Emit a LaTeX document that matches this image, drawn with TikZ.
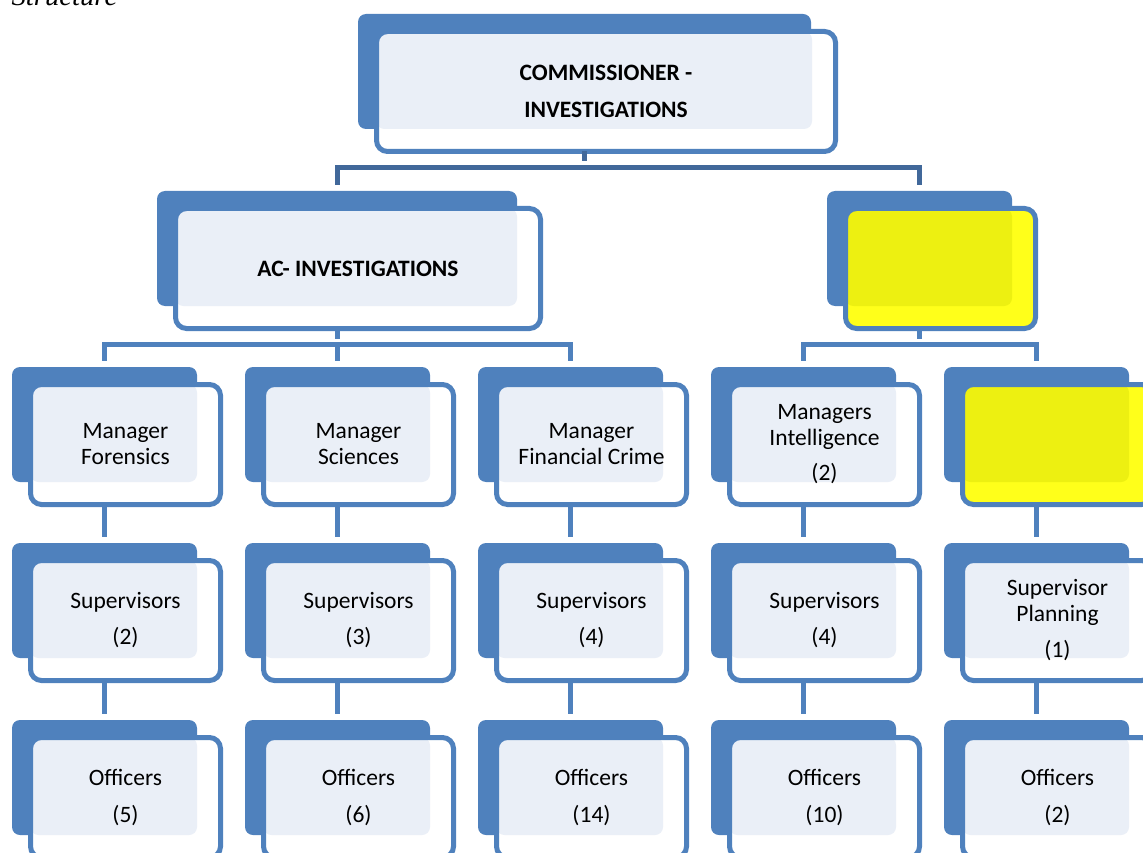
\documentclass[tikz,border=0pt]{standalone}
\usepackage{fontspec}
\setmainfont{Carlito}
\newfontfamily\capfont{Liberation Serif}
\usetikzlibrary{positioning}
\definecolor{boxblue}{RGB}{79,129,189}
\definecolor{linkblue}{RGB}{65,104,154}
\definecolor{lightfill}{RGB}{234,239,247}
\definecolor{hlyellow}{RGB}{255,255,26}
\definecolor{hlshade}{RGB}{237,240,17}

\begin{document}
\begin{tikzpicture}[x=1pt,y=-1pt,
  backbox/.style={fill=boxblue,rounded corners=8pt,minimum width=185pt,minimum height=115pt,inner sep=0pt,outer sep=0pt,anchor=north west},
  frontbox/.style={draw=boxblue,line width=5pt,fill=white,rounded corners=11pt,minimum width=190pt,minimum height=120pt,inner sep=0pt,outer sep=0pt,align=center,font=\fontsize{23.5pt}{26pt}\selectfont,
    below right=17.5pt and 18.5pt of #1-back.north west,
    path picture={\fill[lightfill,rounded corners=8pt] (path picture bounding box.north west) rectangle ([shift={(-23.5pt,22.5pt)}]path picture bounding box.south east);}},
  hlbox/.style={frontbox=#1,fill=hlyellow,
    path picture={\fill[hlshade,rounded corners=8pt] (path picture bounding box.north west) rectangle ([shift={(-23.5pt,22.5pt)}]path picture bounding box.south east);}},
  link/.style={draw=boxblue,line width=5pt,shorten >=6pt},
  toplink/.style={link,draw=linkblue}]
\useasboundingbox (0,0) rectangle (1143,853);
\clip (0,0) rectangle (1143,853);
\node[anchor=base west,font=\capfont\itshape\fontsize{28.7pt}{30pt}\selectfont] (caption) at (8,6) {Structure};

\node[backbox,minimum width=453pt] (comm-back) at (358,14) {};
\node[frontbox=comm,minimum width=459pt,font=\bfseries\fontsize{23.5pt}{26pt}\selectfont] (comm) {COMMISSIONER -\\[11pt]INVESTIGATIONS};

\node[backbox,minimum width=360pt] (ac-back) at (157,191) {};
\node[frontbox=ac,minimum width=365pt,font=\bfseries\fontsize{23.5pt}{26pt}\selectfont] (ac) {AC- INVESTIGATIONS};
\node[backbox] (hl-back) at (827,191) {};
\node[hlbox=hl] (hl) {};

\node[backbox] (manfor-back) at (12,367) {};
\node[frontbox=manfor] (manfor) {Manager\\Forensics};
\node[backbox] (mansci-back) at (245,367) {};
\node[frontbox=mansci] (mansci) {Manager\\Sciences};
\node[backbox] (manfin-back) at (478,367) {};
\node[frontbox=manfin] (manfin) {Manager\\Financial Crime};
\node[backbox] (manint-back) at (711,367) {};
\node[frontbox=manint] (manint) {Managers\\Intelligence\\[9pt](2)};
\node[backbox] (manhl-back) at (944,367) {};
\node[hlbox=manhl] (manhl) {};

\node[backbox] (supfor-back) at (12,543) {};
\node[frontbox=supfor] (supfor) {Supervisors\\[10pt](2)};
\node[backbox] (supsci-back) at (245,543) {};
\node[frontbox=supsci] (supsci) {Supervisors\\[10pt](3)};
\node[backbox] (supfin-back) at (478,543) {};
\node[frontbox=supfin] (supfin) {Supervisors\\[10pt](4)};
\node[backbox] (supint-back) at (711,543) {};
\node[frontbox=supint] (supint) {Supervisors\\[10pt](4)};
\node[backbox] (supplan-back) at (944,543) {};
\node[frontbox=supplan] (supplan) {Supervisor\\Planning\\[10pt](1)};

\node[backbox] (offfor-back) at (12,720) {};
\node[frontbox=offfor] (offfor) {Officers\\[11pt](5)};
\node[backbox] (offsci-back) at (245,720) {};
\node[frontbox=offsci] (offsci) {Officers\\[11pt](6)};
\node[backbox] (offfin-back) at (478,720) {};
\node[frontbox=offfin] (offfin) {Officers\\[11pt](14)};
\node[backbox] (offint-back) at (711,720) {};
\node[frontbox=offint] (offint) {Officers\\[11pt](10)};
\node[backbox] (offplan-back) at (944,720) {};
\node[frontbox=offplan] (offplan) {Officers\\[11pt](2)};

\draw[toplink] (comm-back.south |- comm.south) -- ++(0,16) coordinate (j0);
\draw[toplink] (j0) -| (ac-back.north);
\draw[toplink] (j0) -| (hl-back.north);
\draw[link] (ac-back.south |- ac.south) -- ++(0,16) coordinate (j1);
\draw[link] (j1) -| (manfor-back.north);
\draw[link] (j1) -| (mansci-back.north);
\draw[link] (j1) -| (manfin-back.north);
\draw[link] (hl-back.south |- hl.south) -- ++(0,16) coordinate (j2);
\draw[link] (j2) -| (manint-back.north);
\draw[link] (j2) -| (manhl-back.north);
\draw[link] (manfor-back.south |- manfor.south) -- (supfor-back.north);
\draw[link] (mansci-back.south |- mansci.south) -- (supsci-back.north);
\draw[link] (manfin-back.south |- manfin.south) -- (supfin-back.north);
\draw[link] (manint-back.south |- manint.south) -- (supint-back.north);
\draw[link] (manhl-back.south |- manhl.south) -- (supplan-back.north);
\draw[link] (supfor-back.south |- supfor.south) -- (offfor-back.north);
\draw[link] (supsci-back.south |- supsci.south) -- (offsci-back.north);
\draw[link] (supfin-back.south |- supfin.south) -- (offfin-back.north);
\draw[link] (supint-back.south |- supint.south) -- (offint-back.north);
\draw[link] (supplan-back.south |- supplan.south) -- (offplan-back.north);
\end{tikzpicture}
\end{document}
